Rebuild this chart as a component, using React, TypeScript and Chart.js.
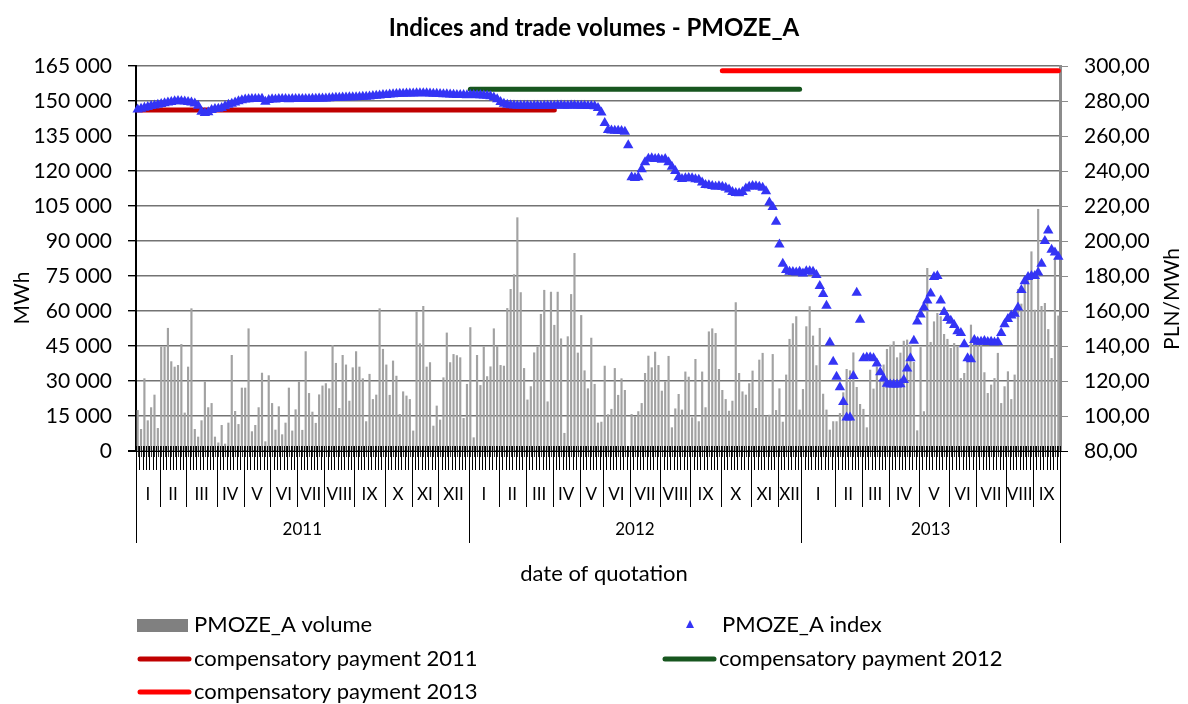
import React, { useEffect, useRef } from 'react';
import { Chart, registerables } from 'chart.js';

Chart.register(...registerables);

const TITLE = 'Indices and trade volumes - PMOZE_A';
const X_TITLE = 'date of quotation';
const Y_LEFT_TITLE = 'MWh';
const Y_RIGHT_TITLE = 'PLN/MWh';

const YEARS = ['2011', '2012', '2013'];
const MONTH_NUMERALS = ['I', 'II', 'III', 'IV', 'V', 'VI', 'VII', 'VIII', 'IX', 'X', 'XI', 'XII'];

// number of plotted sessions in each month
const SESSIONS_2011 = [7, 8, 9, 8, 8, 8, 8, 9, 9, 8, 8, 9];
const SESSIONS_2012 = [9, 8, 8, 8, 7, 8, 9, 9, 9, 9, 8, 7];
const SESSIONS_2013 = [10, 8, 8, 9, 9, 8, 9, 8, 8];

// PMOZE_A volume, MWh
const VOLUME_2011 = [
  17400, 9300, 31000, 13000, 18600, 24000, 9700,
  44600, 44600, 52600, 38300, 36000, 36700, 45700, 16300,
  36000, 61000, 9300, 6000, 13000, 29600, 18600, 20400, 6000,
  3500, 11000, 3000, 12000, 41000, 17000, 11400, 27000,
  27000, 52400, 8300, 11000, 18600, 33400, 4000, 32300,
  20400, 9000, 19000, 7000, 12000, 27000, 8600, 17700,
  29600, 8900, 42600, 24700, 16700, 11900, 24100, 27900,
  28900, 26700, 45300, 37600, 18300, 41000, 36900, 21400, 35700,
  42600, 36000, 31000, 12600, 32900, 22100, 24000, 61000, 43600,
  36900, 23900, 38600, 32100, 15700, 25400, 23600, 22100,
  8600, 59600, 46000, 62000, 36000, 37900, 10700, 19300,
  13300, 31400, 50600, 37900, 41400, 40900, 40000, 14000, 28600,
];
const VOLUME_2012 = [
  52900, 5700, 41000, 28100, 44600, 31900, 36100, 52400, 45000,
  36700, 36400, 61100, 69300, 75600, 100000, 67900, 35400,
  21900, 27600, 42100, 44600, 58600, 68900, 21100, 68100,
  53900, 68100, 48100, 7600, 49000, 67100, 84700, 42000,
  58100, 34400, 26700, 48400, 28600, 12000, 12400,
  36400, 15600, 17900, 35400, 23900, 31000, 26000, 2000,
  15700, 14700, 16900, 20400, 33300, 40700, 35700, 42400, 36700,
  25700, 29700, 40600, 10000, 18100, 24300, 17600, 33900, 31700,
  14300, 39300, 12600, 33900, 18600, 51100, 52400, 50400, 35000,
  26000, 22100, 17100, 21400, 63600, 33300, 25400, 24000, 28900,
  34300, 18300, 39000, 41900, 15000, 15400, 41400, 17400,
  26700, 12400, 32600, 47900, 54600, 57600, 17600,
];
const VOLUME_2013 = [
  26400, 53300, 61900, 49300, 36600, 52600, 24400, 17600, 9000, 12600,
  12600, 16100, 25000, 35000, 34400, 42100, 27300, 20000,
  17900, 10000, 34700, 26600, 36100, 30000, 36900, 43600,
  45400, 46900, 40000, 42000, 47100, 47600, 45400, 38000, 8700,
  44400, 16900, 78300, 46600, 55400, 59000, 57600, 50000, 47900,
  44000, 46100, 44700, 31100, 33300, 38300, 54000, 49000,
  47600, 47300, 33600, 24700, 28300, 31100, 41900, 20400, 27600,
  34000, 22100, 32600, 69300, 63000, 74700, 73300, 85400,
  60400, 103600, 62000, 63300, 52100, 39700, 82600, 57900,
];

// PMOZE_A index, PLN/MWh
const INDEX_2011 = [
  275.2, 275.6, 276.1, 276.6, 277.1, 277.5, 277.9,
  278.3, 278.7, 279.1, 279.5, 279.8, 280.0, 279.9, 279.7,
  279.5, 279.2, 278.6, 277.3, 273.8, 273.2, 273.6, 274.8, 275.4,
  275.6, 276.0, 277.0, 277.9, 278.5, 279.2, 279.9, 280.5,
  280.8, 281.0, 281.1, 281.1, 281.2, 281.3, 279.6, 280.6,
  281.0, 280.9, 281.1, 281.1, 281.1, 281.0, 281.1, 281.1,
  281.1, 281.2, 281.1, 281.2, 281.3, 281.3, 281.4, 281.5,
  281.5, 281.6, 281.7, 281.8, 281.9, 282.0, 282.0, 282.1, 282.2,
  282.2, 282.3, 282.4, 282.5, 282.6, 282.8, 283.0, 283.2, 283.4,
  283.5, 283.7, 283.8, 284.0, 284.1, 284.2, 284.3, 284.3,
  284.3, 284.4, 284.4, 284.5, 284.4, 284.3, 284.2, 284.1,
  284.0, 283.9, 283.8, 283.7, 283.6, 283.5, 283.4, 283.4, 283.3,
];
const INDEX_2012 = [
  283.4, 283.4, 283.3, 283.3, 283.2, 283.0, 282.7, 282.0, 281.0,
  279.5, 278.5, 277.9, 277.6, 277.4, 277.3, 277.3, 277.3,
  277.3, 277.2, 277.3, 277.3, 277.2, 277.3, 277.3, 277.3,
  277.3, 277.4, 277.4, 277.3, 277.3, 277.4, 277.4, 277.3,
  277.3, 277.3, 277.2, 277.2, 277.0, 276.0, 273.5,
  267.5, 263.5, 263.2, 263.0, 263.0, 262.8, 262.5, 254.7,
  236.5, 236.0, 236.5, 241.0, 245.0, 247.0, 247.3, 246.8, 247.0,
  246.5, 246.8, 245.0, 242.5, 240.0, 236.5, 235.5, 235.8, 236.0,
  235.8, 235.3, 235.0, 233.5, 232.0, 231.8, 231.5, 231.0, 231.3,
  231.0, 230.5, 229.5, 228.0, 227.5, 227.3, 228.0, 230.0, 231.0,
  231.5, 231.3, 231.0, 230.5, 228.5, 222.0, 219.5, 211.0,
  198.0, 187.0, 183.5, 182.5, 182.3, 182.0, 182.5,
];
const INDEX_2013 = [
  181.5, 182.7, 182.7, 182.5, 180.6, 174.3, 169.7, 163.0, 142.0, 131.0,
  122.5, 116.5, 108.0, 99.2, 99.2, 122.8, 170.5, 155.0,
  133.0, 133.5, 133.5, 133.0, 130.0, 125.0, 121.5, 118.5,
  118.0, 118.0, 118.0, 118.2, 120.6, 127.2, 133.0, 143.0, 154.0,
  158.0, 162.0, 166.0, 170.0, 179.5, 180.0, 166.0, 159.5, 156.0,
  154.5, 152.0, 148.5, 147.5, 141.0, 133.0, 132.5, 143.5,
  142.5, 142.5, 142.8, 142.3, 142.5, 142.0, 142.3, 147.5, 152.5,
  155.5, 157.5, 158.5, 162.0, 172.0, 177.0, 179.5, 180.0,
  180.0, 182.0, 187.0, 200.0, 206.0, 195.0, 193.5, 191.0,
];

// compensatory payments (PLN/MWh) and the sessions they are drawn over
const COMP_NAMES = ['compensatory payment 2011', 'compensatory payment 2012', 'compensatory payment 2013'];
const COMP_VALUES = [274.92, 286.74, 297.35];
const COMP_FIRST_SESSION = [0, 99, 174];
const COMP_LAST_SESSION = [124, 197, 274];
const COMP_COLORS = ['#c00000', '#17561f', '#ff0000'];

const VOLUME_NAME = 'PMOZE_A volume';
const INDEX_NAME = 'PMOZE_A index';
const BAR_COLOR = '#a2a2a2';
const INDEX_COLOR = '#3434f5';

const FONT = 'Lato, "Open Sans", sans-serif';

const SESSIONS = [SESSIONS_2011, SESSIONS_2012, SESSIONS_2013];
const VOLUMES = [...VOLUME_2011, ...VOLUME_2012, ...VOLUME_2013];
const INDEX = [...INDEX_2011, ...INDEX_2012, ...INDEX_2013];

const LABELS: string[] = [];
SESSIONS.forEach((months, y) => {
  months.forEach((count, m) => {
    for (let s = 0; s < count; s++) LABELS.push(`${YEARS[y]} ${MONTH_NUMERALS[m]} #${s + 1}`);
  });
});

function compData(k: number): (number | null)[] {
  return LABELS.map((_, i) =>
    i >= COMP_FIRST_SESSION[k] && i <= COMP_LAST_SESSION[k] ? COMP_VALUES[k] : null
  );
}

function thousands(v: number): string {
  return String(Math.round(v)).replace(/\B(?=(\d{3})+(?!\d))/g, ' ');
}

const decorPlugin = {
  id: 'decor',
  afterDraw(chart: any) {
    const { ctx, chartArea: a } = chart;
    const xs = chart.scales.x;
    const n = LABELS.length;
    const w = (a.right - a.left) / n;
    const edge = (i: number) => (i < n ? xs.getPixelForValue(i) - w / 2 : xs.getPixelForValue(n - 1) + w / 2);
    const b = a.bottom;
    ctx.save();

    // dense category ticks
    ctx.lineWidth = 1;
    ctx.strokeStyle = '#000';
    ctx.beginPath();
    for (let i = 0; i <= n; i++) {
      const x = Math.round(edge(i)) + 0.5;
      ctx.moveTo(x, b - 5);
      ctx.lineTo(x, b + 19);
    }
    ctx.stroke();
    ctx.strokeStyle = 'rgba(0,0,0,0.8)';
    ctx.beginPath();
    for (let i = 0; i < n; i++) {
      const x = Math.round(xs.getPixelForValue(i)) + 0.5;
      ctx.moveTo(x, b - 5);
      ctx.lineTo(x, b + 6);
    }
    ctx.stroke();

    // x axis line
    ctx.strokeStyle = '#000';
    ctx.beginPath();
    ctx.moveTo(a.left - 8, b + 0.5);
    ctx.lineTo(a.right + 8, b + 0.5);
    ctx.stroke();

    // month / year separators and labels
    ctx.fillStyle = '#000';
    ctx.textAlign = 'center';
    ctx.textBaseline = 'middle';
    let idx = 0;
    SESSIONS.forEach((months, y) => {
      const yearStart = idx;
      months.forEach((count, m) => {
        const x0 = edge(idx);
        const x1 = edge(idx + count);
        if (idx !== yearStart) {
          ctx.beginPath();
          ctx.moveTo(Math.round(x0) + 0.5, b);
          ctx.lineTo(Math.round(x0) + 0.5, b + 56);
          ctx.stroke();
        }
        ctx.font = `17px ${FONT}`;
        ctx.fillText(MONTH_NUMERALS[m], (x0 + x1) / 2, b + 44);
        idx += count;
      });
      const y0 = edge(yearStart);
      const y1 = edge(idx);
      ctx.beginPath();
      ctx.moveTo(Math.round(y0) + 0.5, b);
      ctx.lineTo(Math.round(y0) + 0.5, b + 92);
      ctx.stroke();
      if (y === SESSIONS.length - 1) {
        ctx.beginPath();
        ctx.moveTo(Math.round(y1) + 0.5, b);
        ctx.lineTo(Math.round(y1) + 0.5, b + 92);
        ctx.stroke();
      }
      ctx.font = `17px ${FONT}`;
      ctx.fillText(YEARS[y], (y0 + y1) / 2, b + 79);
    });

    // titles
    ctx.font = `22px ${FONT}`;
    ctx.fillText(X_TITLE, (a.left + a.right) / 2 + 6, b + 123);
    ctx.font = `bold 24px ${FONT}`;
    ctx.fillText(TITLE, chart.width / 2, 28);
    ctx.font = `21px ${FONT}`;
    ctx.save();
    ctx.translate(22, 298);
    ctx.rotate(-Math.PI / 2);
    ctx.fillText(Y_LEFT_TITLE, 0, 0);
    ctx.restore();
    ctx.save();
    ctx.translate(chart.width - 16, 299);
    ctx.rotate(-Math.PI / 2);
    ctx.fillText(Y_RIGHT_TITLE, 0, 0);
    ctx.restore();

    // legend
    ctx.textAlign = 'left';
    ctx.font = `22px ${FONT}`;
    const rows = [625, 659, 692];
    const colL = a.left + 1;
    const colR = 662;
    ctx.fillStyle = '#808080';
    ctx.fillRect(colL, rows[0] - 6, 51, 13);
    ctx.fillStyle = '#000';
    ctx.fillText(VOLUME_NAME, colL + 57, rows[0]);
    ctx.fillStyle = INDEX_COLOR;
    ctx.beginPath();
    ctx.moveTo(690, rows[0] - 5);
    ctx.lineTo(694, rows[0] + 3);
    ctx.lineTo(686, rows[0] + 3);
    ctx.closePath();
    ctx.fill();
    ctx.fillStyle = '#000';
    ctx.fillText(INDEX_NAME, colR + 60, rows[0]);
    const comps = [
      [colL, rows[1]],
      [colR, rows[1]],
      [colL, rows[2]],
    ];
    comps.forEach(([x, y], k) => {
      ctx.strokeStyle = COMP_COLORS[k];
      ctx.lineWidth = 5;
      ctx.lineCap = 'round';
      ctx.beginPath();
      ctx.moveTo(x + 3, y);
      ctx.lineTo(x + 52, y);
      ctx.stroke();
      ctx.fillStyle = '#000';
      ctx.fillText(COMP_NAMES[k], x + 57, y);
    });
    ctx.restore();
  },
};

export default function App() {
  const ref = useRef<HTMLCanvasElement | null>(null);

  useEffect(() => {
    document.body.style.margin = '0';
    let chart: Chart | null = null;
    let cancelled = false;
    const make = () => {
      if (cancelled || !ref.current) return;
      Chart.defaults.font.family = FONT;
      chart = new Chart(ref.current, {
        type: 'bar',
        data: {
          labels: LABELS,
          datasets: [
            {
              type: 'line',
              label: INDEX_NAME,
              data: INDEX,
              yAxisID: 'y1',
              showLine: false,
              pointStyle: 'triangle',
              pointRadius: 6,
              pointBackgroundColor: INDEX_COLOR,
              pointBorderColor: INDEX_COLOR,
              pointBorderWidth: 0,
              order: 0,
              clip: false,
            } as any,
            ...COMP_VALUES.map((_, k) => ({
              type: 'line',
              label: COMP_NAMES[k],
              data: compData(k),
              yAxisID: 'y1',
              borderColor: COMP_COLORS[k],
              backgroundColor: COMP_COLORS[k],
              borderWidth: 5,
              borderCapStyle: 'round',
              pointRadius: 0,
              spanGaps: false,
              order: 1,
              clip: false,
            } as any)),
            {
              type: 'bar',
              label: VOLUME_NAME,
              data: VOLUMES,
              yAxisID: 'y',
              backgroundColor: BAR_COLOR,
              barThickness: 1.5,
              order: 2,
            },
          ],
        },
        options: {
          responsive: false,
          animation: false,
          devicePixelRatio: 1,
          layout: { padding: { top: 66, left: 0, right: 0, bottom: 0 } },
          plugins: {
            legend: { display: false },
            title: { display: false },
            tooltip: { enabled: false },
          },
          scales: {
            x: {
              type: 'category',
              offset: true,
              ticks: { display: false },
              grid: { display: false },
              border: { display: false },
              afterFit: (s: any) => {
                s.height = 253;
              },
            },
            y: {
              position: 'left',
              min: 0,
              max: 165000,
              ticks: {
                stepSize: 15000,
                padding: 16,
                color: '#000',
                font: { size: 21, family: FONT },
                callback: (v: any) => thousands(Number(v)),
              },
              grid: { color: '#737373', lineWidth: 1.4, tickLength: 8, tickColor: '#000' },
              border: { color: '#000', width: 2 },
              afterFit: (s: any) => {
                s.width = 136;
              },
            },
            y1: {
              position: 'right',
              min: 80,
              max: 300,
              ticks: {
                stepSize: 20,
                padding: 16,
                color: '#000',
                font: { size: 21, family: FONT },
                callback: (v: any) => Number(v).toFixed(2).replace('.', ','),
              },
              grid: { drawOnChartArea: false, tickLength: 8, color: '#8c8c8c' },
              border: { color: '#8c8c8c', width: 3 },
              afterFit: (s: any) => {
                s.width = 128;
              },
            },
          },
        },
        plugins: [decorPlugin],
      });
    };
    const fonts = (document as any).fonts;
    if (fonts && fonts.load) {
      Promise.all([fonts.load(`20px Lato`), fonts.load(`bold 20px Lato`)]).then(make, make);
    } else {
      make();
    }
    return () => {
      cancelled = true;
      if (chart) chart.destroy();
    };
  }, []);

  return (
    <div style={{ width: 1188, height: 704 }}>
      <canvas ref={ref} width={1188} height={704} style={{ display: 'block' }} />
    </div>
  );
}
